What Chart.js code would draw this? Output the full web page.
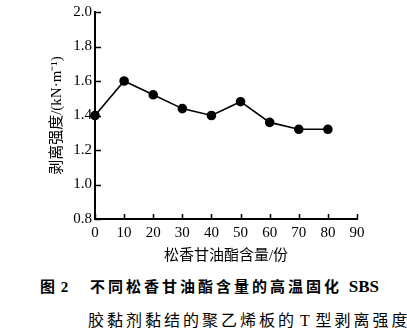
<!DOCTYPE html>
<html>
<head>
<meta charset="utf-8">
<script src="https://cdn.jsdelivr.net/npm/chart.js@4"></script>
<style>
  body { margin: 0; background: #fff; }
  #wrap { position: relative; width: 407px; height: 335px; }
  #peelChart { position: absolute; left: 0; top: 0; }
  .cap { position: absolute; white-space: nowrap; color: #000; line-height: 20px; }
  .fig { left: 40px; top: 275px; font: bold 15px "Liberation Serif", "Noto Sans CJK SC", serif; letter-spacing: 1px; }
  .l1 { left: 90px; top: 275px; font: bold 15px "Liberation Serif", "Noto Sans CJK SC", serif; letter-spacing: 3px; }
  .l1 .en { letter-spacing: 0; font-size: 17px; }
  .l2 { left: 88px; top: 307px; font: 16px "Liberation Serif", "Noto Sans CJK SC", serif; letter-spacing: 3px; word-spacing: -4px; }
</style>
</head>
<body>
<div id="wrap">
  <canvas id="peelChart" width="407" height="265"></canvas>
  <div class="cap fig">图 2</div>
  <div class="cap l1">不同松香甘油酯含量的高温固化 <span class="en">SBS</span></div>
  <div class="cap l2">胶黏剂黏结的聚乙烯板的 T 型剥离强度</div>
</div>
<script>
// rosin glycerol ester content (parts) vs T-peel strength (kN/m)
const contents = [0, 10, 20, 30, 40, 50, 60, 70, 80];
const peelStrength = [1.40, 1.60, 1.52, 1.44, 1.40, 1.48, 1.36, 1.32, 1.32];

const xTitle = '松香甘油酯含量/份';
const yTitle = '剥离强度/(kN·m⁻¹)';

const fontFamily = '"Liberation Serif", "Noto Sans CJK SC", serif';

// inward tick marks on both axes
const innerTicks = {
  id: 'innerTicks',
  afterDraw(chart) {
    const { ctx, chartArea, scales } = chart;
    ctx.save();
    ctx.strokeStyle = '#000';
    ctx.lineWidth = 1.5;
    ctx.beginPath();
    scales.y.ticks.forEach(t => {
      const y = Math.round(scales.y.getPixelForValue(t.value)) + 0.5;
      ctx.moveTo(chartArea.left, y);
      ctx.lineTo(chartArea.left + 6, y);
    });
    scales.x.ticks.forEach(t => {
      const x = Math.round(scales.x.getPixelForValue(t.value)) + 0.5;
      ctx.moveTo(x, chartArea.bottom);
      ctx.lineTo(x, chartArea.bottom - 5);
    });
    ctx.stroke();
    ctx.restore();
  }
};

new Chart(document.getElementById('peelChart'), {
  type: 'line',
  data: {
    datasets: [{
      data: contents.map((c, i) => ({ x: c, y: peelStrength[i] })),
      borderColor: '#000',
      borderWidth: 1.6,
      pointRadius: 4,
      pointBackgroundColor: '#000',
      pointBorderColor: '#000',
      tension: 0,
      clip: false
    }]
  },
  options: {
    responsive: false,
    animation: false,
    devicePixelRatio: 1,
    layout: { padding: { top: 12, right: 50, left: 0, bottom: 0 } },
    plugins: { legend: { display: false }, tooltip: { enabled: false } },
    scales: {
      x: {
        type: 'linear',
        min: 0,
        max: 90,
        ticks: { stepSize: 10, color: '#000', padding: 5, font: { family: fontFamily, size: 15 } },
        grid: { display: false, drawTicks: false },
        border: { display: true, color: '#000', width: 2 },
        title: { display: true, text: xTitle, color: '#000', padding: { top: 0, bottom: 0 }, font: { family: fontFamily, size: 15 } },
        afterFit(scale) { scale.height = 46; }
      },
      y: {
        min: 0.8,
        max: 2.0,
        ticks: {
          stepSize: 0.1,
          color: '#000',
          padding: 3,
          font: { family: fontFamily, size: 15 },
          callback: v => (Math.round(v * 10) % 2 === 0 ? v.toFixed(1) : '')
        },
        grid: { display: false, drawTicks: false },
        border: { display: true, color: '#000', width: 2 },
        title: { display: true, text: yTitle, color: '#000', padding: { top: 48, bottom: 0 }, font: { family: fontFamily, size: 15 } },
        afterFit(scale) { scale.width = 95; }
      }
    }
  },
  plugins: [innerTicks]
});
</script>
</body>
</html>
